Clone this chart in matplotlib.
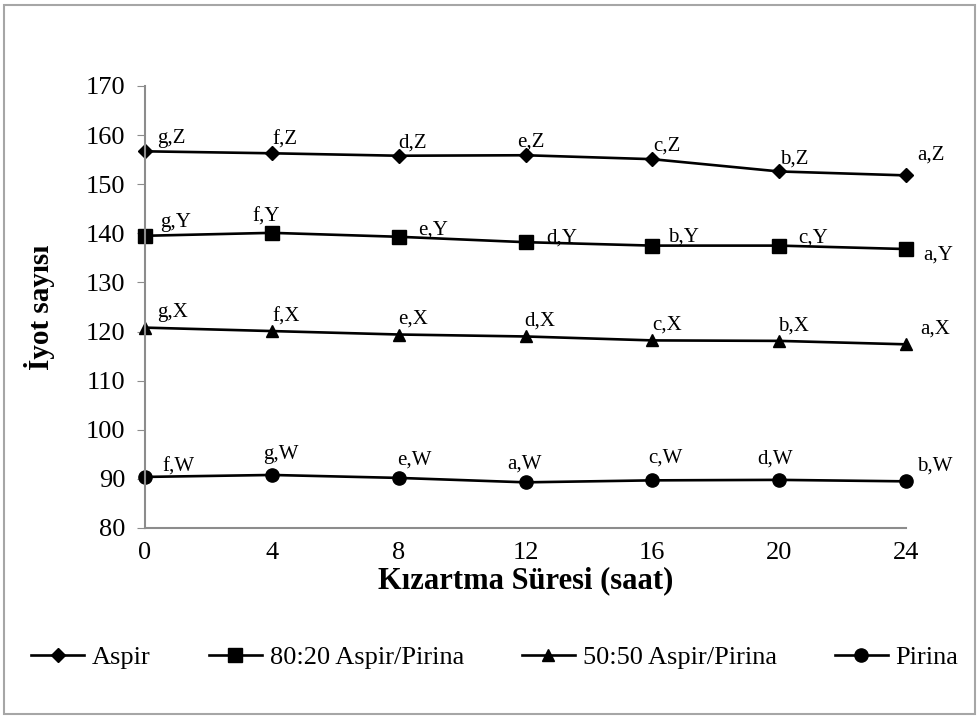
import matplotlib
matplotlib.use("Agg")
import matplotlib.pyplot as plt
from matplotlib.patches import Rectangle

plt.rcParams['font.family'] = ['Liberation Serif', 'DejaVu Serif']

# ---- data ----
saat = [0, 4, 8, 12, 16, 20, 24]

aspir       = [156.7, 156.3, 155.8, 155.9, 155.1, 152.6, 151.8]
aspir_80_20 = [139.5, 140.1, 139.3, 138.2, 137.5, 137.5, 136.8]
aspir_50_50 = [120.8, 120.1, 119.4, 119.0, 118.2, 118.1, 117.4]
pirina      = [90.4, 90.8, 90.2, 89.3, 89.7, 89.8, 89.5]

lab_aspir  = ["g,Z", "f,Z", "d,Z", "e,Z", "c,Z", "b,Z", "a,Z"]
lab_80_20  = ["g,Y", "f,Y", "e,Y", "d,Y", "b,Y", "c,Y", "a,Y"]
lab_50_50  = ["g,X", "f,X", "e,X", "d,X", "c,X", "b,X", "a,X"]
lab_pirina = ["f,W", "g,W", "e,W", "a,W", "c,W", "d,W", "b,W"]

names = ["Aspir", "80:20 Aspir/Pirina", "50:50 Aspir/Pirina", "Pirina"]

# label offsets in pixels (left edge, centre height) -- layout only
off_aspir  = [(12, 13), (1, 13), (0, 13), (-8, 13), (1, 13), (1, 12), (11, 20)]
off_80_20  = [(15, 13), (-19, 16), (19, 7), (21, 4), (16, 9), (19, 8), (17, -6)]
off_50_50  = [(12, 15), (1, 14), (-1, 15), (-1, 15), (0, 15), (-1, 15), (14, 15)]
off_pirina = [(17, 10), (-9, 20), (-2, 18), (-18, 18), (-4, 22), (-22, 21), (11, 15)]

series  = [aspir, aspir_80_20, aspir_50_50, pirina]
labels  = [lab_aspir, lab_80_20, lab_50_50, lab_pirina]
offsets = [off_aspir, off_80_20, off_50_50, off_pirina]
markers = ['D', 's', '^', 'o']
msizes  = [7, 9.5, 9, 9.5]

fig = plt.figure(figsize=(9.8, 7.18), dpi=100)
ax = fig.add_axes([145/980, 1-528/718, (906-145)/980, (528-86)/718])

for vals, labs, offs, mk, ms, name in zip(series, labels, offsets, markers, msizes, names):
    ax.plot(saat, vals, color='black', linewidth=1.9, marker=mk, markersize=ms,
            label=name, clip_on=False)
    for x, y, t, (dx, dy) in zip(saat, vals, labs, offs):
        ax.annotate(t, (x, y), xytext=(dx, dy), textcoords='offset pixels',
                    ha='left', va='center', fontsize=15)

ax.set_xlim(0, 24)
ax.set_ylim(80, 170)
ax.set_xticks(saat)
ax.set_yticks(range(80, 171, 10))
ax.tick_params(axis='y', direction='out', length=6, color='#8c8c8c', labelsize=19, pad=8)
ax.tick_params(axis='x', length=0, labelsize=19, pad=10)
for s in ['top', 'right']:
    ax.spines[s].set_visible(False)
for s in ['left', 'bottom']:
    ax.spines[s].set_color('#8c8c8c')
    ax.spines[s].set_linewidth(1.5)

ax.set_xlabel('Kızartma Süresi (saat)', fontsize=22, fontweight='bold', labelpad=2)
ax.set_ylabel('İyot sayısı', fontsize=21, fontweight='bold', labelpad=22)

fig.legend(loc='center', bbox_to_anchor=(0.505, 1-657/718), ncol=4, frameon=False,
           fontsize=19, handlelength=2.0, handletextpad=0.3, columnspacing=2.2)

fig.patches.append(Rectangle((4/980, 4/718), 971/980, 709/718, transform=fig.transFigure,
                             fill=False, edgecolor='#a6a6a6', linewidth=1.5))

fig.savefig('out.png', dpi=100)
